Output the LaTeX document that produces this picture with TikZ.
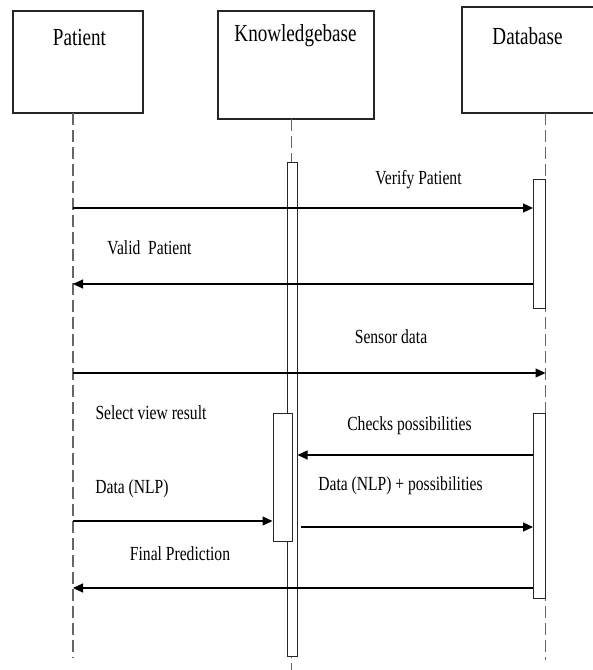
\documentclass[tikz,border=0pt]{standalone}
\usepackage{fontspec}
\setmainfont{Liberation Serif}[FakeStretch=0.78]
\usetikzlibrary{arrows.meta}
\begin{document}
\begin{tikzpicture}[x=1pt,y=-1pt,
  headbox/.style={draw=black!85, line width=1.1pt, inner sep=0pt},
  headtext/.style={inner sep=0pt, font=\fontsize{24.5}{28}\selectfont},
  msgtext/.style={inner sep=0pt, font=\fontsize{20}{24}\selectfont},
  lifeline/.style={draw=black!60, line width=1.1pt, dash pattern=on 12pt off 5pt},
  actbar/.style={draw=black!85, fill=white, line width=1pt, inner sep=0pt},
  msg/.style={draw=black, line width=1.2pt, -{Triangle[length=10pt,width=9pt]}}]
\useasboundingbox (0,0) rectangle (593,670);
% heads
\node[headbox, minimum width=130pt, minimum height=102pt] (patient) at (78,62) {};
\node[headbox, minimum width=156pt, minimum height=108pt] (kb) at (296,65) {};
\node[headbox, minimum width=148pt, minimum height=106pt] (db) at (536,60) {};
\node[headtext] (patientT) at (79.5,37.5) {Patient};
\node[headtext] (kbT) at (295.5,36) {Knowledgebase};
\node[headtext] (dbT) at (527.5,36) {Database};
% lifelines
\coordinate (pTop) at (73,113);
\coordinate (pBot) at (73,658);
\coordinate (kTop) at (291.5,119);
\coordinate (kBot) at (291.5,670);
\coordinate (dTop) at (545.5,113);
\coordinate (dBot) at (545.5,660);
\draw[lifeline] (pTop) -- (pBot);
\draw[lifeline] (kTop) -- (kBot);
\draw[lifeline] (dTop) -- (dBot);
% activation bars
\node[actbar, minimum width=10pt, minimum height=494pt] (kA) at (292,409) {};
\node[actbar, minimum width=19pt, minimum height=128pt] (kB) at (282.5,477) {};
\node[actbar, minimum width=12pt, minimum height=129pt] (dA) at (539.5,243.5) {};
\node[actbar, minimum width=12pt, minimum height=185pt] (dB) at (539.5,505.5) {};
% messages
\draw[msg] (pTop |- 0,208) -- (dA.west |- 0,208);
\draw[msg] (dA.west |- 0,284) -- (pTop |- 0,284);
\draw[msg] (pTop |- 0,373) -- (dTop |- 0,373);
\draw[msg] (dB.west |- 0,455) -- (kA.east |- 0,455);
\draw[msg] (pTop |- 0,521) -- (kB.west |- 0,521);
\coordinate (dpStart) at (301,527);
\draw[msg] (dpStart) -- (dB.west |- dpStart);
\draw[msg] (dB.west |- 0,588) -- (pTop |- 0,588);
% labels
\node[msgtext] (l1) at (418.5,180) {Verify Patient};
\node[msgtext] (l2) at (149.5,248) {Valid~ Patient};
\node[msgtext] (l3) at (391,337) {Sensor data};
\node[msgtext] (l4) at (151,413) {Select view result};
\node[msgtext] (l5) at (409.5,426) {Checks possibilities};
\node[msgtext] (l6) at (132,489) {Data (NLP)};
\node[msgtext] (l7) at (400.5,486) {Data (NLP) + possibilities};
\node[msgtext] (l8) at (180,554) {Final Prediction};
\end{tikzpicture}
\end{document}
